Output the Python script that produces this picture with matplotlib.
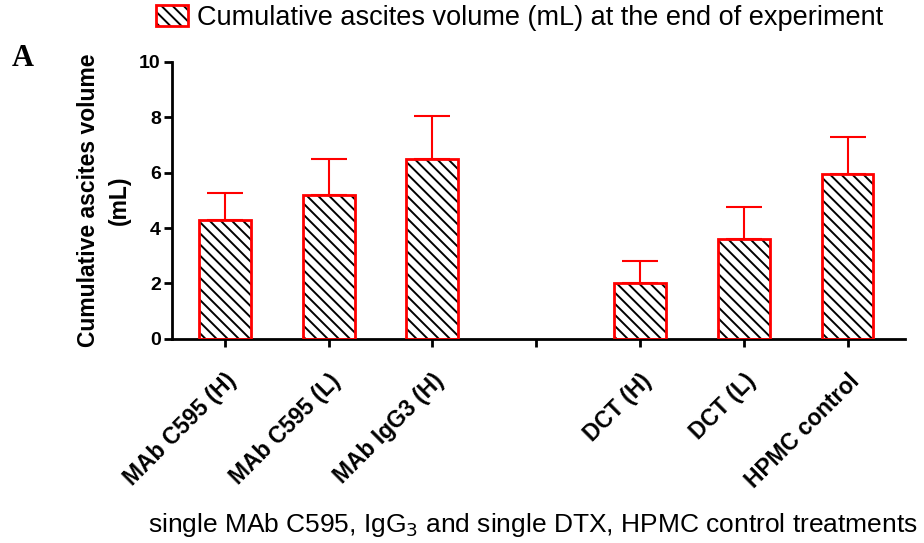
import matplotlib
matplotlib.use("Agg")
import matplotlib.pyplot as plt
from matplotlib.patches import Patch
from matplotlib.legend_handler import HandlerTuple
import numpy as np

categories = ["MAb C595 (H)", "MAb C595 (L)", "MAb IgG3 (H)", "", "DCT (H)", "DCT (L)", "HPMC control"]
values = [4.3, 5.2, 6.5, np.nan, 2.0, 3.6, 5.95]
errors = [0.97, 1.3, 1.56, np.nan, 0.8, 1.15, 1.35]
yticks = [0, 2, 4, 6, 8, 10]

plt.rcParams['font.family'] = ['Liberation Sans', 'DejaVu Sans']
plt.rcParams['hatch.linewidth'] = 1.4

fig = plt.figure(figsize=(9.24, 5.43), dpi=100)
ax = fig.add_axes([0.186, 0.376, 0.793, 0.51])

x = np.arange(len(categories))
mask = ~np.isnan(values)
xv = x[mask]
vv = np.array(values)[mask]
ev = np.array(errors)[mask]

ax.bar(xv, vv, width=0.5, color='white', edgecolor='black', hatch='\\\\\\', linewidth=0, zorder=2)
ax.bar(xv, vv, width=0.5, color='none', edgecolor='#ff0000', linewidth=2, zorder=3)
ax.errorbar(xv, vv, yerr=[np.zeros_like(ev), ev], fmt='none', ecolor='#ff0000',
            elinewidth=1.5, capsize=13, capthick=1.5, zorder=1)

ax.set_xlim(-0.51, 6.55)
ax.set_ylim(0, 10)
ax.set_yticks(yticks)
ax.set_yticklabels([str(t) for t in yticks], fontsize=14, fontweight='bold')
ax.set_xticks(x)
ax.set_xticklabels(categories, rotation=45, ha='right', rotation_mode='anchor',
                   fontsize=16.5, fontweight='bold')
for s in ['top', 'right']:
    ax.spines[s].set_visible(False)
for s in ['left', 'bottom']:
    ax.spines[s].set_linewidth(2)
ax.tick_params(axis='both', direction='out', length=6, width=2)
ax.tick_params(axis='y', pad=2)
ax.tick_params(axis='x', pad=16)

ax.set_ylabel("Cumulative ascites volume\n(mL)", fontsize=16.5, fontweight='bold',
              labelpad=6, linespacing=1.45)

fig.text(0.577, 0.033, "single MAb C595, IgG$_3$ and single DTX, HPMC control treatments",
         fontsize=19, ha='center', va='center')

h1 = Patch(facecolor='white', edgecolor='black', hatch='\\\\\\', linewidth=0)
h2 = Patch(facecolor='none', edgecolor='#ff0000', linewidth=2)
fig.legend([(h1, h2)], ["Cumulative ascites volume (mL) at the end of experiment"],
           handler_map={tuple: HandlerTuple(ndivide=1)}, loc='center',
           bbox_to_anchor=(0.562, 0.967), frameon=False, fontsize=19.5,
           handlelength=1.2, handleheight=0.8, handletextpad=0.3, borderpad=0)

fig.text(0.013, 0.878, "A", fontsize=22, fontweight='bold',
         family=['Liberation Serif', 'DejaVu Serif'])

fig.savefig("out.png", dpi=100)
